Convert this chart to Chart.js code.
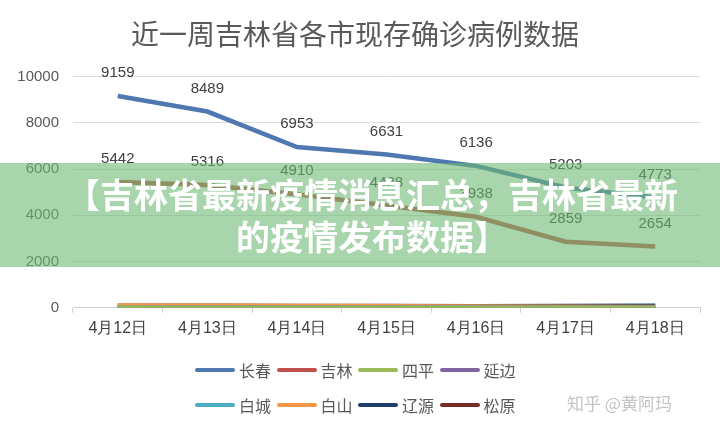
<!DOCTYPE html>
<html lang="zh">

<head>
    <meta charset="UTF-8">
    <title>近一周吉林省各市现存确诊病例数据</title>
    <style>
        body { margin: 0; background: #fff; }
        #wrap { position: relative; width: 720px; height: 430px; overflow: hidden; }
        #banner {
            position: absolute; left: 0; top: 163px; width: 720px; height: 104px;
            background: rgba(110, 185, 115, 0.6);
            color: #fff; font: bold 34px "Noto Sans CJK SC", sans-serif;
            line-height: 42px; text-align: center; box-sizing: border-box; padding: 10px 0 0 24px;
        }
        #legend {
            position: absolute; left: 195px; top: 358px; width: 340px;
            display: flex; flex-wrap: wrap; row-gap: 11px;
            font: 16px "Noto Sans CJK SC", sans-serif; color: #595959;
        }
        .item { width: 81.5px; display: flex; align-items: center; height: 24px; }
        .swatch { width: 40px; height: 4px; border-radius: 2px; margin-right: 4px; }
        #mark {
            position: absolute; left: 567px; top: 390px;
            font: 17px "Noto Sans CJK SC", sans-serif; color: #c4c4c4;
        }
    </style>
</head>

<body>
    <div id="wrap">
        <canvas id="chart" width="720" height="430"></canvas>
        <div id="banner">【吉林省最新疫情消息汇总，吉林省最新<br>的疫情发布数据】</div>
        <div id="legend"></div>
        <div id="mark">知乎 @黄阿玛</div>
    </div>
</body>

<script src="https://cdn.jsdelivr.net/npm/chart.js"></script>

<script>
    const days = ['4月12日', '4月13日', '4月14日', '4月15日', '4月16日', '4月17日', '4月18日'];
    const cities = ['长春', '吉林', '四平', '延边', '白城', '白山', '辽源', '松原'];
    const colors = ['#4f77b0', '#c0504d', '#9bbb59', '#8064a2', '#4bacc6', '#f79646', '#1f3f6b', '#772c2a'];

    const changchun = [9159, 8489, 6953, 6631, 6136, 5203, 4773];
    const jilin = [5442, 5316, 4910, 4428, 3938, 2859, 2654];
    const siping = [20, 18, 15, 15, 12, 10, 10];
    const yanbian = [25, 22, 20, 18, 15, 12, 10];
    const baicheng = [30, 28, 25, 22, 20, 18, 15];
    const baishan = [110, 100, 90, 80, 70, 60, 50];
    const liaoyuan = [60, 65, 70, 75, 80, 90, 100];
    const songyuan = [100, 95, 90, 85, 80, 70, 60];
    const series = [changchun, jilin, siping, yanbian, baicheng, baishan, liaoyuan, songyuan];

    const yTicks = [0, 2000, 4000, 6000, 8000, 10000];
    const numFont = '"Liberation Sans Narrow", "Liberation Sans", sans-serif';

    // value labels above the two big series only
    const valueLabels = {
        id: 'valueLabels',
        afterDatasetsDraw(chart) {
            const ctx = chart.ctx;
            ctx.save();
            ctx.font = '15px ' + numFont;
            ctx.fillStyle = '#404040';
            ctx.textAlign = 'center';
            ctx.textBaseline = 'middle';
            [0, 1].forEach(i => {
                chart.getDatasetMeta(i).data.forEach((pt, j) => {
                    ctx.fillText(series[i][j], pt.x, pt.y - 23);
                });
            });
            ctx.restore();
        }
    };

    new Chart(document.getElementById('chart'), {
        type: 'line',
        data: {
            labels: days,
            datasets: cities.map((c, i) => ({
                label: c,
                data: series[i],
                borderColor: colors[i],
                backgroundColor: colors[i],
                borderWidth: i < 2 ? 4.5 : 4,
                pointRadius: 0,
                tension: 0
            }))
        },
        options: {
            responsive: false,
            animation: false,
            layout: { padding: { left: 10, right: 20, bottom: 86 } },
            plugins: {
                legend: { display: false },
                tooltip: { enabled: false },
                title: {
                    display: true,
                    text: '近一周吉林省各市现存确诊病例数据',
                    color: '#595959',
                    font: { family: '"Noto Sans CJK SC", sans-serif', size: 28, weight: 'normal' },
                    padding: { top: 18, bottom: 25 }
                }
            },
            scales: {
                x: {
                    offset: true,
                    grid: { offset: true, drawOnChartArea: false, drawTicks: true, tickLength: 5, color: '#d0d0d0' },
                    border: { color: '#d0d0d0' },
                    ticks: { color: '#404040', font: { family: numFont, size: 16 }, padding: 6, maxRotation: 0 }
                },
                y: {
                    min: 0,
                    max: 10000,
                    afterBuildTicks: s => { s.ticks = yTicks.map(v => ({ value: v })); },
                    afterFit: s => { s.width = 63; },
                    grid: { color: '#dcdcdc', drawTicks: false },
                    border: { display: false },
                    ticks: { color: '#595959', font: { family: numFont, size: 15 }, padding: 14, callback: v => String(v) }
                }
            }
        },
        plugins: [valueLabels]
    });

    const legend = document.getElementById('legend');
    cities.forEach((c, i) => {
        const item = document.createElement('div');
        item.className = 'item';
        item.innerHTML = '<span class="swatch" style="background:' + colors[i] + '"></span>' + c;
        legend.appendChild(item);
    });
</script>

</html>
